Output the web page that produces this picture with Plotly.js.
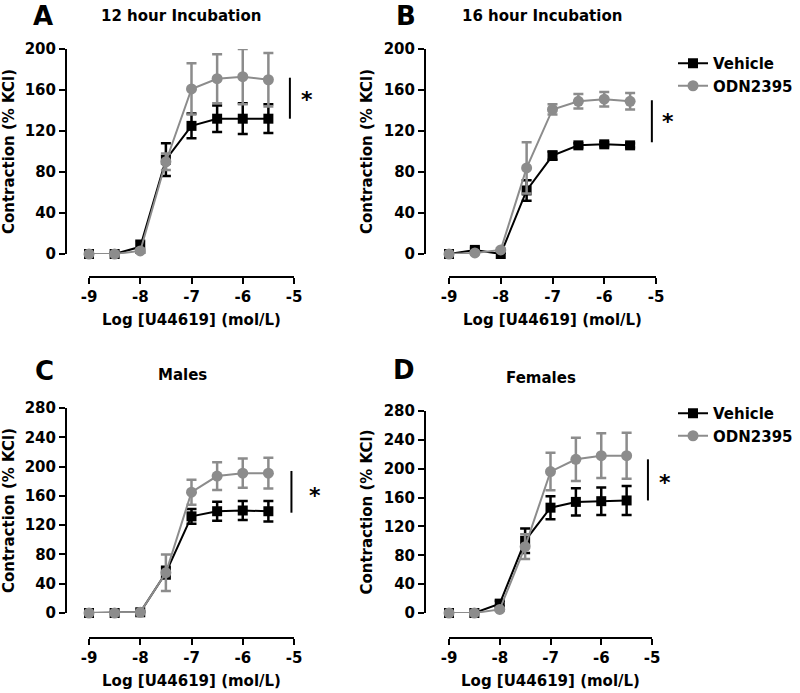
<!DOCTYPE html>
<html>
<head>
<meta charset="utf-8">
<script src="https://cdn.plot.ly/plotly-3.0.1.min.js"></script>
<style>
  html, body { margin: 0; padding: 0; background: #fff; }
  #plotArea { width: 800px; height: 693px; }
</style>
</head>
<body>
<div id="plotArea"></div>
<script>
// log concentration of U44619
var logDose = [-9, -8.5, -8, -7.5, -7, -6.5, -6, -5.5];

// A: 12 hour incubation
var vehA = [0, 0, 7, 92, 125, 132, 132, 132];
var vehAErr = [1, 1, 6, 16, 12, 13, 15, 14];
var odnA = [0, 0, 3, 90, 161, 171, 173, 170];
var odnAErr = [1, 1, 2, 8, 25, 24, 27, 26];

// B: 16 hour incubation
var vehB = [0, 4, 0, 62, 96, 106, 107, 106];
var vehBErr = [1, 2, 1, 10, 4, 2, 2, 2];
var odnB = [0, 1, 4, 84, 141, 149, 151, 149];
var odnBErr = [1, 1, 1, 25, 5, 7, 7, 8];

// C: males
var vehC = [0, 0, 1, 55, 132, 139, 140, 139];
var vehCErr = [1, 1, 1, 8, 10, 13, 13, 14];
var odnC = [0, 0, 1, 55, 165, 187, 191, 191];
var odnCErr = [1, 1, 1, 25, 17, 19, 20, 21];

// D: females
var vehD = [0, 0, 13, 100, 146, 154, 155, 156];
var vehDErr = [1, 1, 4, 17, 16, 19, 19, 20];
var odnD = [0, 0, 5, 92, 196, 213, 218, 218];
var odnDErr = [1, 1, 2, 17, 26, 30, 31, 32];

var panelLetters = ["A", "B", "C", "D"];
var panelTitles = ["12 hour Incubation", "16 hour Incubation", "Males", "Females"];
var yTickVals = [[0, 40, 80, 120, 160, 200], [0, 40, 80, 120, 160, 200],
                 [0, 40, 80, 120, 160, 200, 240, 280], [0, 40, 80, 120, 160, 200, 240, 280]];
var yMax = [200, 200, 280, 280];
// significance bar in data units: [x, yLow, yHigh]
var sigBars = [[-5.08, 132, 172], [-5.08, 109, 150], [-5.05, 137, 194], [-5.08, 156, 213]];

var W = 800, H = 693;
var black = "#000000";
var grey = "#8c8c8c";
var fontFam = "DejaVu Sans, Verdana, sans-serif";

// pixel geometry of each panel
var geo = [
  {x0: 89, x1: 294, yax: 66, yTop: 49, yBot: 254, xLine: 277, letter: [43, 16], title: [181, 16], star: [307, 100]},
  {x0: 449, x1: 656, yax: 425, yTop: 49, yBot: 254, xLine: 277, letter: [406, 16], title: [542, 16], star: [668, 122]},
  {x0: 89, x1: 294, yax: 66, yTop: 408, yBot: 613, xLine: 638, letter: [44, 371], title: [182, 375], star: [315, 495]},
  {x0: 449, x1: 652, yax: 425, yTop: 411, yBot: 613, xLine: 638, letter: [404, 370], title: [541, 378], star: [665, 482]}
];

var vehSets = [[vehA, vehAErr], [vehB, vehBErr], [vehC, vehCErr], [vehD, vehDErr]];
var odnSets = [[odnA, odnAErr], [odnB, odnBErr], [odnC, odnCErr], [odnD, odnDErr]];

var data = [];
var layout = {
  width: W, height: H,
  margin: {l: 0, r: 0, t: 0, b: 0},
  paper_bgcolor: "#fff",
  plot_bgcolor: "rgba(0,0,0,0)",
  font: {family: fontFam, color: black, size: 15, weight: "bold"},
  showlegend: true,
  legend: {x: 673 / W, y: 1 - 47 / H, xanchor: "left", yanchor: "top",
           font: {size: 15, weight: "bold"}, bgcolor: "rgba(0,0,0,0)", tracegroupgap: 0},
  legend2: {x: 673 / W, y: 1 - 397 / H, xanchor: "left", yanchor: "top",
            font: {size: 15, weight: "bold"}, bgcolor: "rgba(0,0,0,0)", tracegroupgap: 0},
  annotations: [],
  shapes: []
};

for (var i = 0; i < 4; i++) {
  var g = geo[i];
  var xa = i === 0 ? "x" : "x" + (i + 1);
  var ya = i === 0 ? "y" : "y" + (i + 1);
  var xKey = i === 0 ? "xaxis" : "xaxis" + (i + 1);
  var yKey = i === 0 ? "yaxis" : "yaxis" + (i + 1);
  var legendName = i === 3 ? "legend2" : "legend";
  var inLegend = (i === 1 || i === 3);

  data.push({
    x: logDose, y: vehSets[i][0], xaxis: xa, yaxis: ya,
    name: "Vehicle", type: "scatter", mode: "lines+markers",
    line: {color: black, width: 2},
    marker: {symbol: "square", size: 10, color: black},
    error_y: {type: "data", array: vehSets[i][1], color: black, thickness: 2.5, width: 5},
    cliponaxis: false, showlegend: inLegend, legend: legendName
  });
  data.push({
    x: logDose, y: odnSets[i][0], xaxis: xa, yaxis: ya,
    name: "ODN2395", type: "scatter", mode: "lines+markers",
    line: {color: grey, width: 2},
    marker: {symbol: "circle", size: 11, color: grey},
    error_y: {type: "data", array: odnSets[i][1], color: grey, thickness: 2.5, width: 5},
    cliponaxis: false, showlegend: inLegend, legend: legendName
  });

  layout[xKey] = {
    domain: [g.x0 / W, g.x1 / W],
    anchor: "free", position: 1 - g.xLine / H,
    range: [-9, -5], tickvals: [-9, -8, -7, -6, -5], ticktext: ["-9", "-8", "-7", "-6", "-5"],
    showgrid: false, zeroline: false, showline: true, linecolor: black, linewidth: 2,
    ticks: "outside", ticklen: 6, tickwidth: 2, tickcolor: black,
    tickfont: {size: 15, weight: "bold"},
    title: {text: "Log [U44619] (mol/L)", font: {size: 15, weight: "bold"}, standoff: 8}
  };
  layout[yKey] = {
    domain: [1 - g.yBot / H, 1 - g.yTop / H],
    anchor: "free", position: g.yax / W,
    range: [0, yMax[i]], tickvals: yTickVals[i],
    showgrid: false, zeroline: false, showline: true, linecolor: black, linewidth: 2,
    ticks: "outside", ticklen: 6, tickwidth: 2, tickcolor: black,
    tickfont: {size: 15, weight: "bold"},
    title: {text: "Contraction (% KCl)", font: {size: 15, weight: "bold"}, standoff: 6}
  };

  var sb = sigBars[i];
  layout.shapes.push({type: "line", xref: xa, yref: ya, x0: sb[0], x1: sb[0], y0: sb[1], y1: sb[2],
                      line: {color: black, width: 2}});
  layout.annotations.push({xref: "paper", yref: "paper", x: g.star[0] / W, y: 1 - g.star[1] / H,
                           xanchor: "center", yanchor: "middle",
                           text: "*", showarrow: false, font: {size: 22, weight: "bold"}});
  layout.annotations.push({xref: "paper", yref: "paper", x: g.letter[0] / W, y: 1 - g.letter[1] / H,
                           xanchor: "center", yanchor: "middle", text: panelLetters[i],
                           showarrow: false, font: {size: 26, weight: "bold"}});
  layout.annotations.push({xref: "paper", yref: "paper", x: g.title[0] / W, y: 1 - g.title[1] / H,
                           xanchor: "center", yanchor: "middle", text: panelTitles[i],
                           showarrow: false, font: {size: 15, weight: "bold"}});
}

Plotly.newPlot("plotArea", data, layout, {displayModeBar: false, staticPlot: true});
</script>
</body>
</html>
